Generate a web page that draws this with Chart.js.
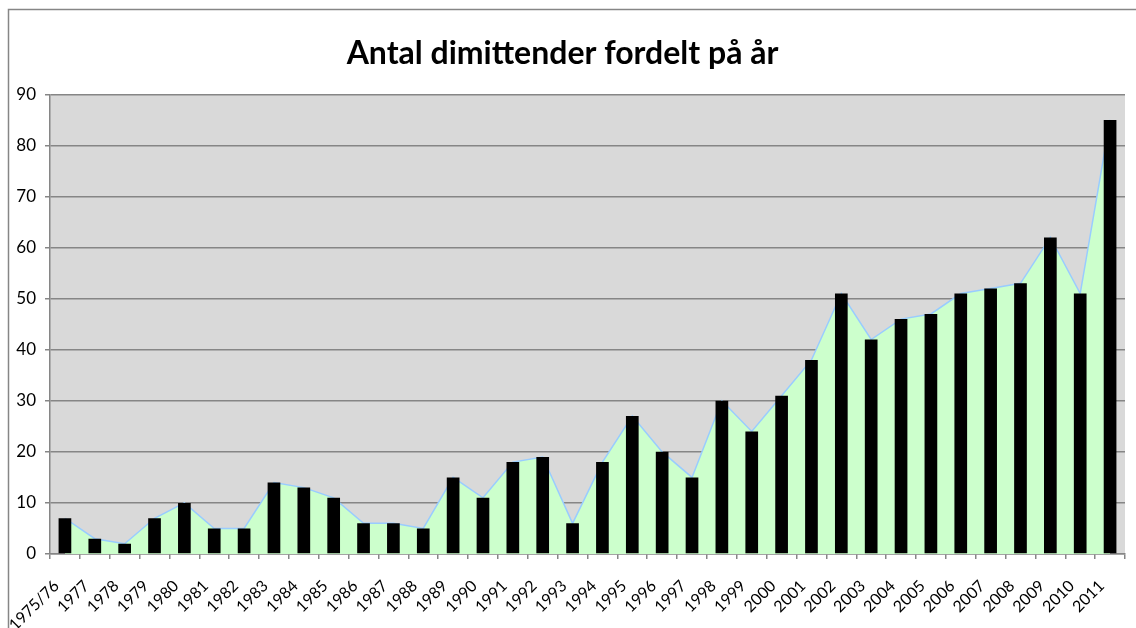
<!DOCTYPE html>
<html>
<head>
<meta charset="utf-8">
<script src="https://cdn.jsdelivr.net/npm/chart.js@4.4.1/dist/chart.umd.min.js"></script>
<style>
    html, body { margin: 0; padding: 0; background: #fff; }
    #wrap { width: 1136px; height: 628px; position: relative; }
</style>
</head>
<body>
<div id="wrap"><canvas id="chartDimit"></canvas></div>
<script>
// categories (x axis)
const years = ['1975/76', '1977', '1978', '1979', '1980', '1981', '1982', '1983', '1984', '1985',
    '1986', '1987', '1988', '1989', '1990', '1991', '1992', '1993', '1994', '1995', '1996', '1997',
    '1998', '1999', '2000', '2001', '2002', '2003', '2004', '2005', '2006', '2007', '2008', '2009',
    '2010', '2011'];
// number of graduates per year
const dimittender = [7, 3, 2, 7, 10, 5, 5, 14, 13, 11, 6, 6, 5, 15, 11, 18, 19, 6, 18, 27, 20, 15,
    30, 24, 31, 38, 51, 42, 46, 47, 51, 52, 53, 62, 51, 85];
// y axis ticks
const yTicks = [0, 10, 20, 30, 40, 50, 60, 70, 80, 90];
const chartTitle = 'Antal dimittender fordelt på år';

const gridColor = '#868686',
    font = "Lato, Calibri, 'Open Sans', sans-serif";

// white page, outer frame and grey plot area
const backdrop = {
    id: 'backdrop',
    beforeDraw(chart) {
        let { ctx, chartArea: a } = chart;
        ctx.save();
        ctx.fillStyle = '#fff';
        ctx.fillRect(0, 0, chart.width, chart.height);
        ctx.strokeStyle = gridColor;
        ctx.lineWidth = 1.5;
        ctx.strokeRect(8.5, 9.5, chart.width + 20, chart.height + 20);
        ctx.fillStyle = '#d9d9d9';
        ctx.fillRect(a.left, a.top, a.right - a.left, a.bottom - a.top);
        ctx.restore();
    }
};

var ctx = chartDimit.getContext('2d');
new Chart(ctx, {
    type: 'bar',
    data: {
        labels: years,
        datasets: [
            {
                type: 'bar', label: 'dimittender', data: dimittender, order: 0,
                backgroundColor: '#000', borderColor: '#222', borderWidth: 0,
                barPercentage: 0.425, categoryPercentage: 1
            },
            {
                type: 'line', label: 'area', data: dimittender, order: 1,
                fill: 'origin', backgroundColor: '#ccffcc', borderColor: '#99ccff',
                borderWidth: 1.5, pointRadius: 0, tension: 0
            }
        ]
    },
    options: {
        responsive: true,
        maintainAspectRatio: false,
        animation: false,
        devicePixelRatio: 1,
        layout: { padding: { left: 0, right: 11, top: 0, bottom: 0 } },
        plugins: {
            legend: { display: false },
            tooltip: { enabled: false },
            title: {
                display: true, text: chartTitle, color: '#000',
                font: { family: font, size: 32, weight: 'bold', lineHeight: 1.2 },
                padding: { top: 34, bottom: 22 }
            }
        },
        scales: {
            x: {
                offset: true,
                grid: {
                    offset: true, drawOnChartArea: false, drawTicks: true,
                    tickLength: 5, color: gridColor, lineWidth: 1.5
                },
                border: { color: gridColor, width: 1.5 },
                ticks: {
                    color: '#000', minRotation: 45, maxRotation: 45, autoSkip: false,
                    font: { family: font, size: 16 }, padding: 9,
                    // em space keeps the label end a bit away from the tick, like excel
                    callback: (v, i) => years[i] + '\u2003'
                },
                afterFit: (s) => { s.height = 74; s.paddingLeft = 0; s.paddingRight = 0; }
            },
            y: {
                min: 0, max: 90,
                afterBuildTicks: (s) => { s.ticks = yTicks.map(v => ({ value: v })); },
                grid: { color: gridColor, lineWidth: 1.5, tickLength: 5 },
                border: { color: gridColor, width: 1.5 },
                ticks: {
                    color: '#000', padding: 9,
                    font: { family: font, size: 17 }
                },
                afterFit: (s) => { s.width = 50; s.paddingTop = 0; s.paddingBottom = 0; }
            }
        }
    },
    plugins: [backdrop]
});
</script>
</body>
</html>
